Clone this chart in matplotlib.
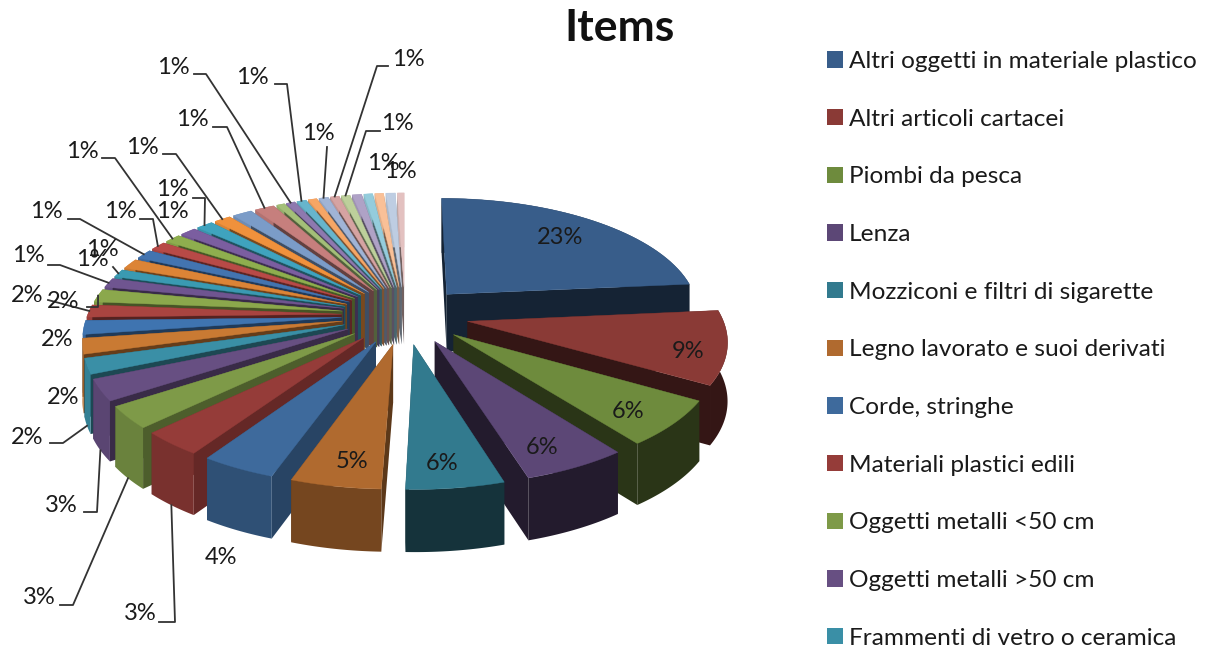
import matplotlib
import matplotlib.pyplot as plt
import numpy as np
from matplotlib.patches import Patch, Polygon

matplotlib.use("Agg")

# --- Data ---
items = [
    "Altri oggetti in materiale plastico",
    "Altri articoli cartacei",
    "Piombi da pesca",
    "Lenza",
    "Mozziconi e filtri di sigarette",
    "Legno lavorato e suoi derivati",
    "Corde, stringhe",
    "Materiali plastici edili",
    "Oggetti metalli <50 cm",
    "Oggetti metalli >50 cm",
    "Frammenti di vetro o ceramica",
]
values = [23.5, 10.0, 6.2, 5.6, 5.2, 4.8, 4.0, 3.3, 3.0, 2.9, 2.1, 2.1, 1.9, 1.7, 1.8,
          1.3, 1.1, 1.4, 1.3, 1.2, 1.2, 1.2, 1.25, 1.25, 1.45, 1.45,
          0.6, 0.65, 0.7, 0.65, 0.7, 0.65, 0.65, 0.7, 0.65, 0.65, 0.7, 0.5]
pct_labels = ["23%", "9%", "6%", "6%", "6%", "5%", "4%", "3%", "3%", "3%", "2%", "2%", "2%", "2%", "2%"] + ["1%"] * 23
colors = [
    "#385D8A", "#8A3A36", "#6E8B3D", "#5C4776", "#327A8E", "#B06A2F",
    "#3E6A9C", "#953C39", "#7E9A48", "#674F82", "#3A8FA6", "#C97A33",
    "#3F74B0", "#A94440", "#8BA84C", "#6F5590", "#3A9AB2", "#DC8436",
    "#4374B0", "#B84A47", "#8EAE4E", "#7B5EA0", "#3FA3BE", "#F0913C",
    "#7B9CC8", "#C67F7D", "#A3BF78", "#8E79AF", "#67B5CC", "#F6A665",
    "#A0B4D6", "#D6A3A2", "#BDD09B", "#AFA2C6", "#94CCDC", "#F9C097",
    "#BECDE2", "#E3C1C0",
]

# --- Layout (pixels) ---
cx, cy = 405, 315
rad_x, rad_y = 254, 115
persp = 0.142
explode = 0.25
depth = 58

# label centre per slice, the small back slices do not all carry a label
label_pos = {
    0: (560, 237), 1: (688, 351), 2: (628, 412), 3: (542, 447), 4: (442, 463), 5: (352, 461), 6: (221, 557),
    7: (140, 614), 8: (39, 597), 9: (61, 505), 10: (27, 437), 11: (63, 397), 12: (57, 339), 13: (27, 295),
    14: (63, 301), 15: (28, 256), 16: (102, 250), 17: (92, 260), 18: (46, 212), 19: (120, 212), 20: (82, 152),
    21: (172, 212), 22: (172, 190), 23: (142, 147), 25: (192, 120), 27: (173, 68), 28: (252, 77), 30: (318, 134),
    31: (408, 60), 32: (397, 124), 34: (383, 163), 36: (400, 171),
}
# leader line points from the label to the elbow, the end comes from the slice
leaders = {
    7: [(159, 622), (175, 622)],
    8: [(60, 605), (73, 605)],
    9: [(84, 512), (97, 512)],
    10: [(50, 443), (63, 443)],
    13: [(48, 300)],
    14: [(87, 307), (98, 307)],
    15: [(48, 265), (60, 265)],
    16: [(113, 267)],
    18: [(68, 219), (80, 219)],
    19: [(140, 219), (153, 219)],
    20: [(102, 158), (115, 158)],
    22: [(193, 198), (205, 198)],
    23: [(163, 154), (176, 154)],
    25: [(213, 127), (227, 127)],
    27: [(194, 74), (206, 74)],
    28: [(275, 84), (287, 84)],
    30: [(327, 147)],
    31: [(388, 66), (377, 66)],
    32: [(380, 131), (366, 131)],
}


def project(u, v):
    w = 1 / (1 + persp * v)
    return cx + rad_x * u * w, cy - rad_y * v * w, depth * w**0.4


def shade(color, f):
    rgb = np.array(matplotlib.colors.to_rgb(color))
    return tuple(rgb * f)


fig = plt.figure(figsize=(12.07, 6.5), dpi=100)
ax = fig.add_axes([0, 0, 1, 1])
ax.set_xlim(0, 1207)
ax.set_ylim(650, 0)
ax.axis("off")
plt.rcParams["font.family"] = ["Lato", "DejaVu Sans"]

fracs = np.array(values) / sum(values)
edges = np.concatenate([[0], np.cumsum(fracs)]) * 2 * np.pi
mids = (edges[:-1] + edges[1:]) / 2

# back slices first so the front ones cover them
order = sorted(range(len(values)), key=lambda i: -np.cos(mids[i]))
rims = {}
for i in order:
    t = np.linspace(edges[i], edges[i + 1], 41)
    ox, oy = explode * np.sin(mids[i]), explode * np.cos(mids[i])
    ax0, ay0, ad0 = project(ox, oy)
    X, Y, D = project(ox + np.sin(t), oy + np.cos(t))
    deg = np.degrees(mids[i])
    outer_f = np.interp(deg, [0, 170, 190, 215, 250, 360], [0.38, 0.38, 0.66, 0.8, 0.9, 0.9])
    radial_f = np.interp(deg, [0, 170, 215, 250, 360], [0.38, 0.38, 0.7, 0.5, 0.5])

    # radial walls
    for k in (0, -1):
        wall = [(ax0, ay0), (X[k], Y[k]), (X[k], Y[k] + D[k]), (ax0, ay0 + ad0)]
        ax.add_patch(Polygon(wall, closed=True, fc=shade(colors[i], radial_f), ec="none", zorder=2))
    # outer wall
    wall = list(zip(X, Y)) + list(zip(X[::-1], (Y + D)[::-1]))
    ax.add_patch(Polygon(wall, closed=True, fc=shade(colors[i], outer_f), ec="none", zorder=2))
    # top face
    top = [(ax0, ay0)] + list(zip(X, Y))
    ax.add_patch(Polygon(top, closed=True, fc=colors[i], ec=colors[i], lw=0.3, zorder=2))
    rims[i] = (X[20], Y[20], D[20], deg)

for i, pts in leaders.items():
    x, y, d, deg = rims[i]
    end = (x, y + d if deg < 265 else y)
    xs, ys = zip(*(pts + [end]))
    ax.plot(xs, ys, color="#333333", lw=1.3, zorder=3)

for i, (x, y) in label_pos.items():
    ax.text(x, y, pct_labels[i], ha="center", va="center", fontsize=17, color="#1a1a1a", zorder=4)

ax.text(620, 28, "Items", ha="center", va="center", fontsize=32, weight="bold", color="#111111")

handles = [Patch(fc=c, ec="none") for c in colors[:len(items)]]
ax.legend(
    handles,
    items,
    loc="upper left",
    bbox_to_anchor=(827 / 1207, 1 - 51 / 650),
    frameon=False,
    fontsize=17.6,
    labelcolor="#1a1a1a",
    handlelength=0.66,
    handleheight=0.66,
    handletextpad=0.25,
    labelspacing=1.5,
    borderpad=0,
    borderaxespad=0,
)

fig.savefig("out.png", dpi=100)
plt.close()
